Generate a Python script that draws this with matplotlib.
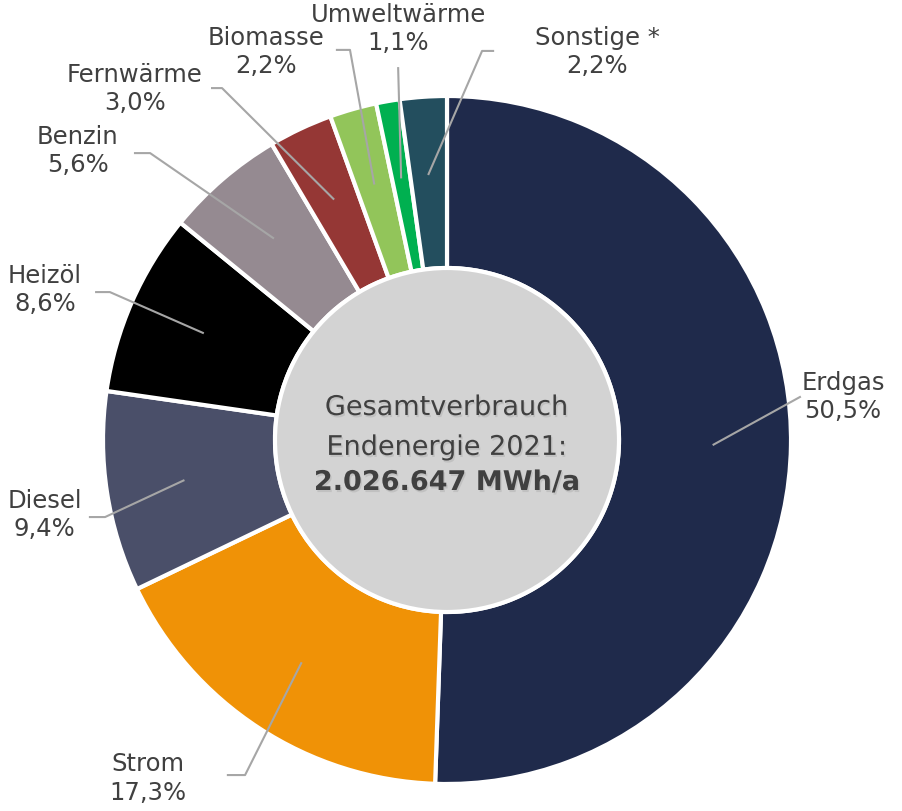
import numpy as np
import matplotlib.pyplot as plt
import matplotlib.patheffects as pe
from matplotlib.patches import Circle

# Endenergie 2021, Anteile in %
labels = ['Erdgas', 'Strom', 'Diesel', 'Heizöl', 'Benzin',
          'Fernwärme', 'Biomasse', 'Umweltwärme', 'Sonstige *']
shares = [50.5, 17.3, 9.4, 8.6, 5.6, 3.0, 2.2, 1.1, 2.2]
share_txt = ['50,5%', '17,3%', '9,4%', '8,6%', '5,6%',
             '3,0%', '2,2%', '1,1%', '2,2%']
colors = ['#1f2a4b', '#f09206', '#4a4f69', '#000000', '#958a91',
          '#953735', '#92c55a', '#00b050', '#234e5e']
center_lines = ['Gesamtverbrauch', 'Endenergie 2021:', '2.026.647 MWh/a']

# label centre and leader elbow/end (radius units, centre of pie = 0,0)
label_pos = [(1.151, 0.125), (-0.869, -0.983), (-1.169, -0.218), (-1.169, 0.436),
             (-1.073, 0.840), (-0.907, 1.020), (-0.525, 1.128), (-0.142, 1.195),
             (0.436, 1.128)]
elbow = [(1.026, 0.125), (-0.587, -0.974), (-0.994, -0.224), (-0.980, 0.430),
         (-0.863, 0.834), (-0.654, 1.023), (-0.282, 1.134), (-0.142, 1.081),
         (0.102, 1.131)]
line_end = [(1.026, 0.125), (-0.637, -0.974), (-1.038, -0.224), (-1.020, 0.430),
            (-0.907, 0.834), (-0.683, 1.023), (-0.320, 1.134), (-0.142, 1.081),
            (0.134, 1.131)]
center_y = [0.093, -0.023, -0.125]

txt_col = '#404040'
plt.rcParams['font.family'] = ['DejaVu Sans']

fig = plt.figure(figsize=(9.03, 8.11), dpi=100)
ax = fig.add_axes([0, 0, 1, 1])

wedges, _ = ax.pie(shares, colors=colors, startangle=90, counterclock=False,
                   radius=1.0, wedgeprops=dict(width=0.5, edgecolor='white', linewidth=3))
ax.set_xlim(-447 / 344, (903 - 447) / 344)
ax.set_ylim(-(811 - 440) / 344, 440 / 344)
ax.set_aspect('auto')
ax.axis('off')

ax.add_patch(Circle((0, 0), 0.5, facecolor='#d3d3d3', edgecolor='white', lw=3, zorder=3))

for i, w in enumerate(wedges):
    mid = np.deg2rad((w.theta1 + w.theta2) / 2)
    sx, sy = 0.775 * np.cos(mid), 0.775 * np.sin(mid)
    ax.plot([sx, elbow[i][0], line_end[i][0]], [sy, elbow[i][1], line_end[i][1]],
            color='#a6a6a6', lw=1.5, zorder=4)
    ax.text(label_pos[i][0], label_pos[i][1], labels[i] + '\n' + share_txt[i],
            ha='center', va='center', fontsize=17.5, color=txt_col,
            linespacing=1.25, zorder=5)

shadow = [pe.withSimplePatchShadow(offset=(1, -1.5), shadow_rgbFace='#a0a0a0', alpha=0.35)]
for j, line in enumerate(center_lines):
    ax.text(0, center_y[j], line, ha='center', va='center', fontsize=19.5,
            color=txt_col, fontweight='bold' if j == 2 else 'normal',
            path_effects=shadow, zorder=5)

fig.savefig('out.png', dpi=100)
